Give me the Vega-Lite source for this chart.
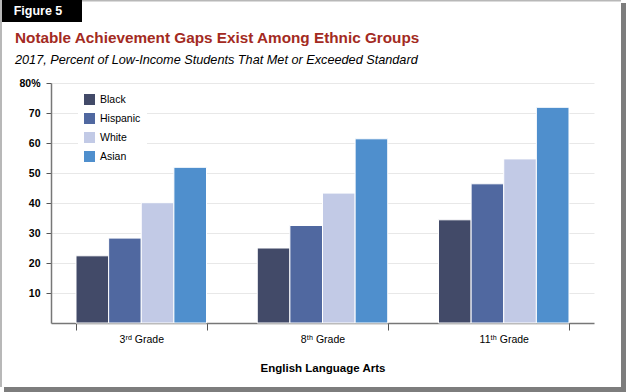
{
  "$schema": "https://vega.github.io/schema/vega-lite/v6.json",
  "padding": 0,
  "background": "white",
  "spacing": 0,
  "config": {
    "font": "Liberation Sans",
    "view": {"stroke": null}
  },
  "resolve": {"legend": {"color": "independent"}, "scale": {"color": "independent"}},
  "vconcat": [
    {
      "spacing": 0,
      "resolve": {"legend": {"color": "independent"}, "scale": {"color": "independent"}},
      "hconcat": [
        {
          "width": 2,
          "height": 387,
          "view": {"fill": "#b8b8b8", "stroke": null},
          "data": {"values": [{}]},
          "mark": {"type": "point", "size": 0, "opacity": 0}
        },
        {
          "spacing": 9,
          "resolve": {"legend": {"color": "independent"}, "scale": {"color": "independent"}},
          "vconcat": [
            {
              "spacing": 0,
              "hconcat": [
                {
                  "width": 80,
                  "height": 22,
                  "view": {"fill": "black", "stroke": null},
                  "data": {"values": [{"t": "Figure 5"}]},
                  "mark": {"type": "text", "color": "white", "fontWeight": "bold", "fontSize": 12.5, "font": "Liberation Sans", "dx": -4},
                  "encoding": {"text": {"field": "t", "type": "nominal"}}
                },
                {
                  "width": 539,
                  "height": 1.5,
                  "view": {"fill": "#b8b8b8", "stroke": null},
                  "data": {"values": [{}]},
                  "mark": {"type": "point", "size": 0, "opacity": 0}
                }
              ]
            },
            {
              "spacing": 0,
              "bounds": "flush",
              "resolve": {"legend": {"color": "independent"}, "scale": {"color": "independent"}},
              "hconcat": [
                {
                  "width": 49,
                  "height": 1,
                  "data": {"values": [{}]},
                  "mark": {"type": "point", "size": 0, "opacity": 0}
                },
                {
                  "width": 543,
                  "height": 240,
                  "title": {
                    "text": "Notable Achievement Gaps Exist Among Ethnic Groups",
                    "subtitle": "2017, Percent of Low-Income Students That Met or Exceeded Standard",
                    "anchor": "start",
                    "frame": "bounds",
                    "dx": 13,
                    "color": "#a32a22",
                    "fontSize": 15.3,
                    "fontWeight": "bold",
                    "font": "Liberation Sans",
                    "subtitleFont": "Liberation Sans",
                    "subtitleFontStyle": "italic",
                    "subtitleFontSize": 12.7,
                    "subtitleColor": "black",
                    "subtitlePadding": 8,
                    "offset": 11
                  },
                  "data": {
                    "values": [
                      {"grade": "3ʳᵈ Grade", "group": "Black", "value": 22.4},
                      {"grade": "3ʳᵈ Grade", "group": "Hispanic", "value": 28.3},
                      {"grade": "3ʳᵈ Grade", "group": "White", "value": 40.1},
                      {"grade": "3ʳᵈ Grade", "group": "Asian", "value": 51.9},
                      {"grade": "8ᵗʰ Grade", "group": "Black", "value": 25.0},
                      {"grade": "8ᵗʰ Grade", "group": "Hispanic", "value": 32.5},
                      {"grade": "8ᵗʰ Grade", "group": "White", "value": 43.3},
                      {"grade": "8ᵗʰ Grade", "group": "Asian", "value": 61.4},
                      {"grade": "11ᵗʰ Grade", "group": "Black", "value": 34.4},
                      {"grade": "11ᵗʰ Grade", "group": "Hispanic", "value": 46.4},
                      {"grade": "11ᵗʰ Grade", "group": "White", "value": 54.7},
                      {"grade": "11ᵗʰ Grade", "group": "Asian", "value": 71.9}
                    ]
                  },
                  "mark": {"type": "bar", "stroke": "white", "strokeWidth": 1},
                  "encoding": {
                    "x": {
                      "field": "grade",
                      "type": "nominal",
                      "sort": ["3ʳᵈ Grade", "8ᵗʰ Grade", "11ᵗʰ Grade"],
                      "scale": {"paddingInner": 0.28, "paddingOuter": 0.138},
                      "axis": {
                        "title": "English Language Arts",
                        "titleFontSize": 11.5,
                        "titleFontWeight": "bold",
                        "titleColor": "black",
                        "titlePadding": 18,
                        "labelAngle": 0,
                        "labelFontSize": 10.5,
                        "labelColor": "black",
                        "labelPadding": 4,
                        "tickBand": "extent",
                        "tickSize": 7,
                        "tickColor": "#555555",
                        "domainColor": "#777777",
                        "domainWidth": 1.5
                      }
                    },
                    "xOffset": {
                      "field": "group",
                      "type": "nominal",
                      "sort": ["Black", "Hispanic", "White", "Asian"],
                      "scale": {"paddingInner": 0, "paddingOuter": 0}
                    },
                    "y": {
                      "field": "value",
                      "type": "quantitative",
                      "scale": {"domain": [0, 80], "nice": false},
                      "axis": {
                        "title": null,
                        "values": [10, 20, 30, 40, 50, 60, 70, 80],
                        "labelExpr": "datum.value == 80 ? '80%' : datum.label",
                        "labelFontSize": 10.5,
                        "labelFontWeight": "bold",
                        "labelColor": "black",
                        "labelPadding": 6,
                        "tickSize": 5,
                        "tickColor": "#555555",
                        "domainColor": "#777777",
                        "domainWidth": 1.5,
                        "gridColor": "#e8e8e8",
                        "minExtent": 49
                      }
                    },
                    "color": {
                      "field": "group",
                      "type": "nominal",
                      "scale": {
                        "domain": ["Black", "Hispanic", "White", "Asian"],
                        "range": ["#424a68", "#5068a0", "#c2cae6", "#4f8fcd"]
                      },
                      "legend": {
                        "title": null,
                        "orient": "none",
                        "legendX": 27,
                        "legendY": 5,
                        "padding": 6,
                        "fillColor": "white",
                        "symbolType": "square",
                        "symbolSize": 121,
                        "symbolStrokeWidth": 0,
                        "labelFontSize": 10.5,
                        "labelColor": "black",
                        "labelOffset": 5,
                        "rowPadding": 8
                      }
                    }
                  }
                },
                {
                  "width": 27,
                  "height": 1,
                  "data": {"values": [{}]},
                  "mark": {"type": "point", "size": 0, "opacity": 0}
                }
              ]
            }
          ]
        },
        {
          "spacing": 0,
          "vconcat": [
            {
              "width": 5,
              "height": 3,
              "data": {"values": [{}]},
              "mark": {"type": "point", "size": 0, "opacity": 0}
            },
            {
              "width": 5,
              "height": 384,
              "view": {"fill": "#7d7d7d", "stroke": null},
              "data": {"values": [{}]},
              "mark": {"type": "point", "size": 0, "opacity": 0}
            }
          ]
        }
      ]
    },
    {
      "spacing": 0,
      "hconcat": [
        {
          "width": 4,
          "height": 5,
          "data": {"values": [{}]},
          "mark": {"type": "point", "size": 0, "opacity": 0}
        },
        {
          "width": 622,
          "height": 5,
          "view": {"fill": "#7d7d7d", "stroke": null},
          "data": {"values": [{}]},
          "mark": {"type": "point", "size": 0, "opacity": 0}
        }
      ]
    }
  ]
}
